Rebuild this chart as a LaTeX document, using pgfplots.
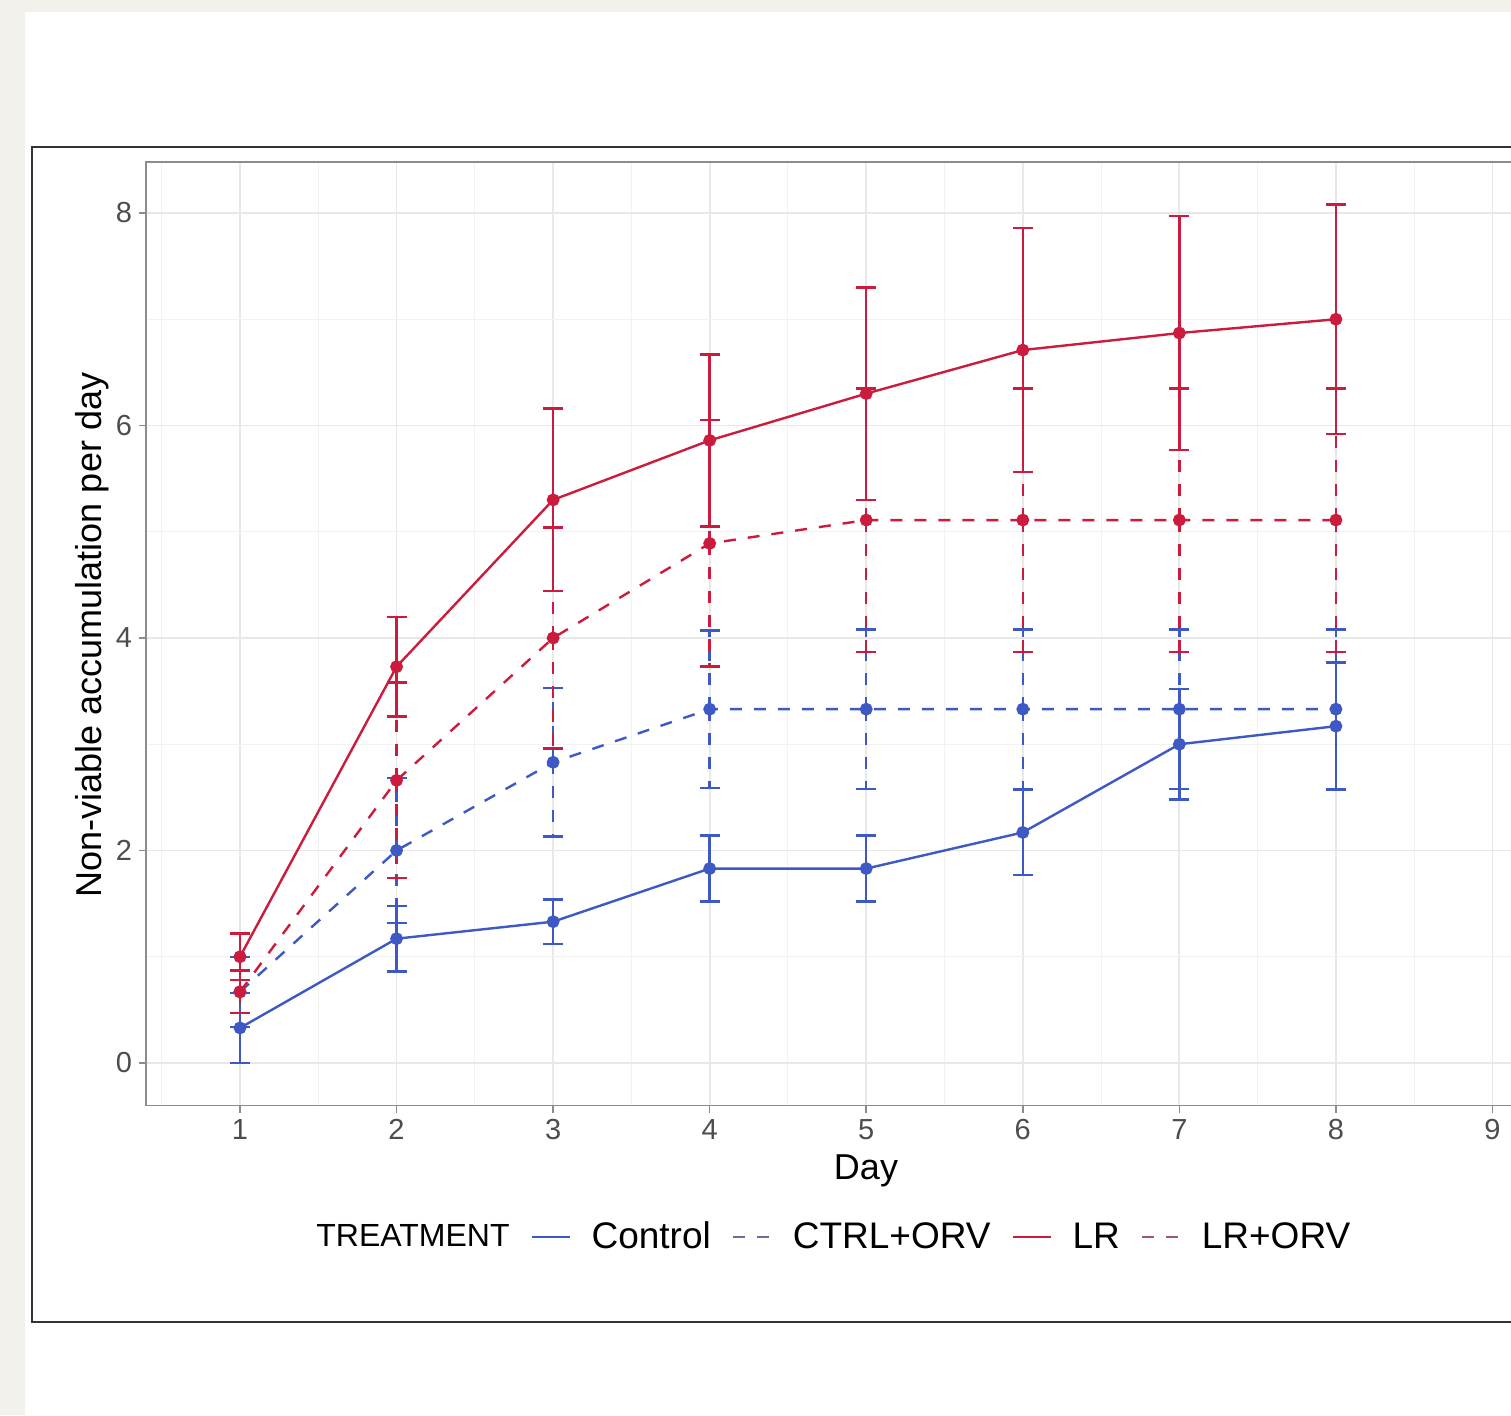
\documentclass[border=0pt]{standalone}
\usepackage{fontspec}
\setmainfont{Liberation Sans}
\usepackage{pgfplots}
\pgfplotsset{compat=1.18}
\definecolor{ctrlblue}{RGB}{62,88,196}
\definecolor{lrred}{RGB}{204,28,62}
\definecolor{pagegray}{RGB}{242,241,236}
\definecolor{tickgray}{RGB}{77,77,77}

\begin{document}
\begin{tikzpicture}[x=0.5pt,y=0.5pt]
\useasboundingbox (0,0) rectangle (1511,1415);
\clip (0,0) rectangle (1511,1415);
\fill[pagegray] (0,0) rectangle (1511,1415);
\fill[white] (25,0) rectangle (1511,1403);
% outer frame, right side runs off the page
\draw[line width=1.1pt, black!80] (32,93) rectangle (1560,1268);
\begin{axis}[
    at={(73.03pt,154.75pt)}, anchor=south west,
    scale only axis, width=735.85pt, height=471.75pt,
    xmin=0.4, xmax=9.8, ymin=-0.4, ymax=8.48,
    xtick={1,...,9}, ytick={0,2,4,6,8},
    minor xtick={0.5,1.5,...,9.5}, minor ytick={1,3,5,7},
    grid=both,
    major grid style={color=black!9, line width=0.9pt},
    minor grid style={color=black!5, line width=0.5pt},
    axis line style={black!45, line width=0.8pt},
    tick style={black!45, line width=0.8pt},
    tick align=outside, major tick length=3.5pt, minor tick length=0pt,
    xtick pos=bottom, ytick pos=left,
    /pgf/number format/assume math mode=true,
    ticklabel style={font=\fontsize{14.5}{17}\selectfont, text=tickgray},
    xlabel={Day}, ylabel={Non-viable accumulation per day},
    label style={font=\fontsize{18}{21}\selectfont},
    xlabel style={at={(axis description cs:0.4892,-0.0692)}, anchor=center},
    ylabel style={at={(axis description cs:-0.0367,0.4987)}, anchor=center},
    legend columns=-1,
    legend image code/.code={\draw[#1] (0pt,0pt) -- (19pt,0pt);},
    legend style={at={(axis description cs:0.0971,-0.1394)}, anchor=west,
        draw=none, fill=none, font=\fontsize{18.5}{22}\selectfont,
        nodes={inner xsep=5pt, inner ysep=2pt},
        /tikz/every odd column/.append style={column sep=5.5pt},
        /tikz/every even column/.append style={column sep=5.5pt}},
    every axis plot/.append style={line width=1.2pt, mark=*, mark size=2.6pt},
]
% Control
\addplot[ctrlblue, forget plot, mark options={solid, fill=ctrlblue},
    error bars/.cd, y dir=both, y explicit, error mark=|,
    error bar style={line width=1.2pt},
    error mark options={ctrlblue, line width=1.2pt, mark size=5pt}]
coordinates {
    (1,0.33) +- (0,0.33)
    (2,1.17) +- (0,0.31)
    (3,1.33) +- (0,0.21)
    (4,1.83) +- (0,0.31)
    (5,1.83) +- (0,0.31)
    (6,2.17) +- (0,0.40)
    (7,3.00) +- (0,0.52)
    (8,3.17) +- (0,0.60)
};
% CTRL+ORV
\addplot[ctrlblue, dash pattern=on 6pt off 6pt, forget plot, mark options={solid, fill=ctrlblue},
    error bars/.cd, y dir=both, y explicit, error mark=|,
    error bar style={line width=1.2pt, dash pattern=on 6pt off 6pt},
    error mark options={ctrlblue, solid, line width=1.2pt, mark size=5pt}]
coordinates {
    (1,0.67) +- (0,0.33)
    (2,2.00) +- (0,0.68)
    (3,2.83) +- (0,0.70)
    (4,3.33) +- (0,0.74)
    (5,3.33) +- (0,0.75)
    (6,3.33) +- (0,0.75)
    (7,3.33) +- (0,0.75)
    (8,3.33) +- (0,0.75)
};
% LR
\addplot[lrred, forget plot, mark options={solid, fill=lrred},
    error bars/.cd, y dir=both, y explicit, error mark=|,
    error bar style={line width=1.2pt},
    error mark options={lrred, line width=1.2pt, mark size=5pt}]
coordinates {
    (1,1.00) +- (0,0.22)
    (2,3.73) +- (0,0.47)
    (3,5.30) +- (0,0.86)
    (4,5.86) +- (0,0.81)
    (5,6.30) +- (0,1.00)
    (6,6.71) +- (0,1.15)
    (7,6.87) +- (0,1.10)
    (8,7.00) +- (0,1.08)
};
% LR+ORV
\addplot[lrred, dash pattern=on 6pt off 6pt, forget plot, mark options={solid, fill=lrred},
    error bars/.cd, y dir=both, y explicit, error mark=|,
    error bar style={line width=1.2pt, dash pattern=on 6pt off 6pt},
    error mark options={lrred, solid, line width=1.2pt, mark size=5pt}]
coordinates {
    (1,0.67) +- (0,0.20)
    (2,2.66) +- (0,0.92)
    (3,4.00) +- (0,1.04)
    (4,4.89) +- (0,1.16)
    (5,5.11) +- (0,1.24)
    (6,5.11) +- (0,1.24)
    (7,5.11) +- (0,1.24)
    (8,5.11) +- (0,1.24)
};
\addlegendimage{empty legend}
\addlegendentry{\fontsize{16}{19}\selectfont TREATMENT}
\addlegendimage{ctrlblue, line width=1pt}
\addlegendentry{Control}
\addlegendimage{ctrlblue!60!black!70, line width=1pt, dash pattern=on 6pt off 6pt}
\addlegendentry{CTRL+ORV}
\addlegendimage{lrred, line width=1pt}
\addlegendentry{LR}
\addlegendimage{lrred!60!black!70, line width=1pt, dash pattern=on 6pt off 6pt}
\addlegendentry{LR+ORV}
\end{axis}
\end{tikzpicture}
\end{document}
